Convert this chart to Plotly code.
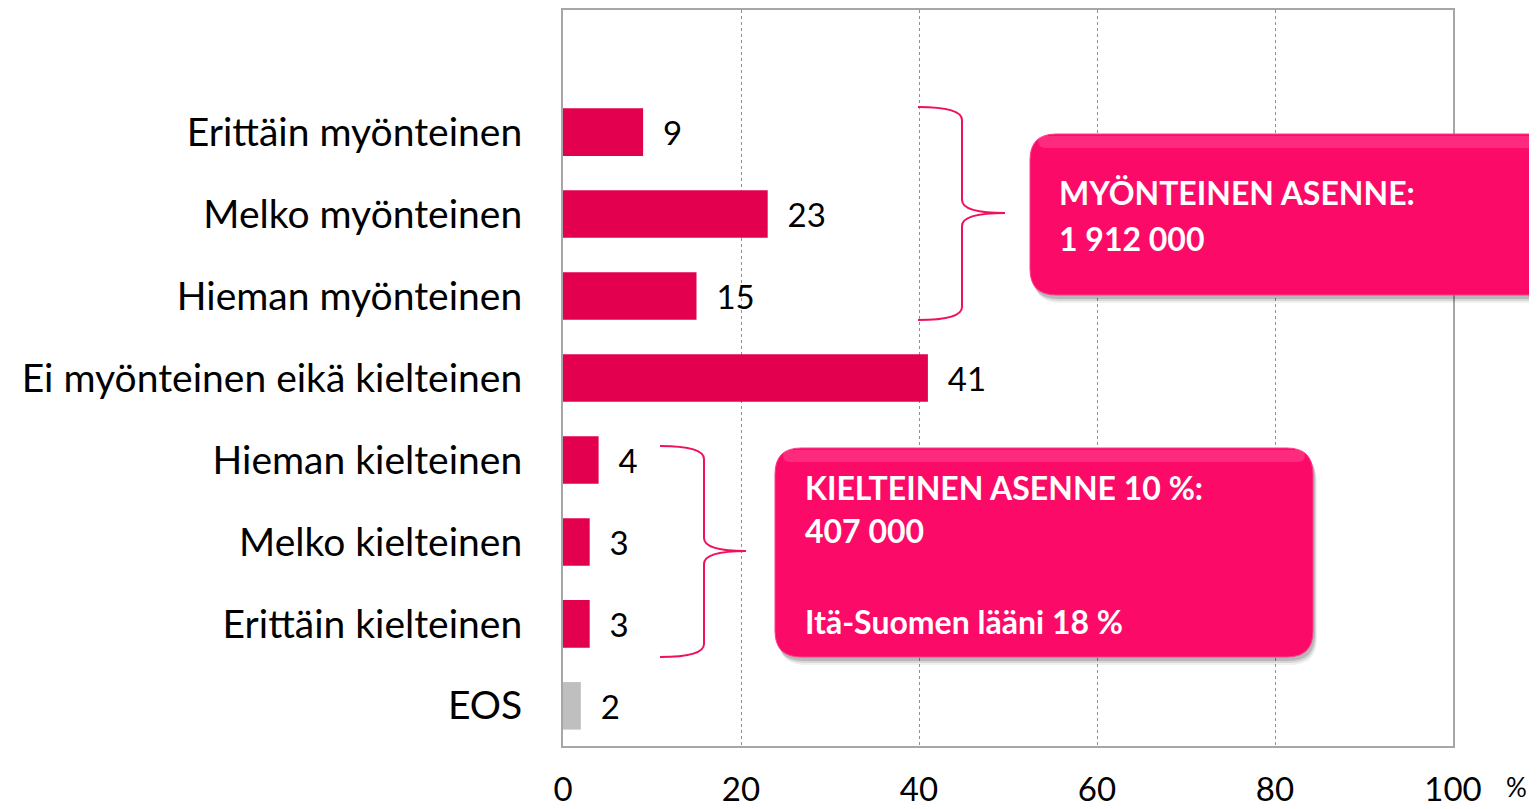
import plotly.graph_objects as go

# ---- data ----
categories = [
    "Erittäin myönteinen",
    "Melko myönteinen",
    "Hieman myönteinen",
    "Ei myönteinen eikä kielteinen",
    "Hieman kielteinen",
    "Melko kielteinen",
    "Erittäin kielteinen",
    "EOS",
]
values = [9, 23, 15, 41, 4, 3, 3, 2]
x_ticks = [0, 20, 40, 60, 80, 100]
box_top_lines = ["MYÖNTEINEN ASENNE:", "1 912 000"]
box_bottom_lines = ["KIELTEINEN ASENNE 10 %:", "407 000", "Itä-Suomen lääni 18 %"]

# ---- style ----
OFF = 8  # default page body margin
W, H = 1537 - OFF, 809 - OFF
PL, PR, PT, PB = 563, 1453, 10, 746  # plot area in page pixels
L, R, T, B = PL - OFF, W - (PR - OFF), PT - OFF, H - (PB - OFF)
PW, PH = PR - PL, PB - PT
FONT = "Lato"
PINK = "#e2004f"
GREY = "#bfbfbf"
BOX = "#fc0a68"

def xp(px):
    return (px - PL) / PW

def yp(py):
    return (PB - py) / PH

colors = [GREY if c == "EOS" else PINK for c in categories]

fig = go.Figure()
fig.add_trace(go.Bar(
    y=categories,
    x=values,
    orientation="h",
    marker=dict(color=colors, line=dict(width=0)),
    width=0.58,
    text=values,
    texttemplate="  %{text}",
    textposition="outside",
    textfont=dict(family=FONT, size=33, color="black"),
    constraintext="none",
    cliponaxis=False,
    hoverinfo="skip",
))

shapes = []

def rounded_rect(x0, y0, x1, y1, r):
    rx, ry = r / PW, r / PH
    a, b, c, d = xp(x0), yp(y1), xp(x1), yp(y0)
    return (f"M {a+rx},{b} L {c-rx},{b} Q {c},{b} {c},{b+ry} "
            f"L {c},{d-ry} Q {c},{d} {c-rx},{d} L {a+rx},{d} "
            f"Q {a},{d} {a},{d-ry} L {a},{b+ry} Q {a},{b} {a+rx},{b} Z")

def box(x0, y0, x1, y1):
    for off, alpha in [(8, 0.06), (6, 0.10), (4, 0.14)]:
        shapes.append(dict(type="path", xref="paper", yref="paper", layer="above",
                           path=rounded_rect(x0 + off * 0.5, y0 + off, x1 + off * 0.5, y1 + off, 26),
                           fillcolor=f"rgba(0,0,0,{alpha})", line=dict(width=0)))
    shapes.append(dict(type="path", xref="paper", yref="paper", layer="above",
                       path=rounded_rect(x0, y0, x1, y1, 26),
                       fillcolor=BOX, line=dict(color="#ff3d8a", width=1)))
    shapes.append(dict(type="path", xref="paper", yref="paper", layer="above",
                       path=rounded_rect(x0 + 8, y0 + 2, x1 - 8, y0 + 14, 7),
                       fillcolor="rgba(255,120,180,0.30)", line=dict(width=0)))

def brace(xl, ytop, xv, ymid, xtip, ybot):
    c = 13
    p = (f"M {xp(xl)},{yp(ytop)} "
         f"Q {xp(xv)},{yp(ytop)} {xp(xv)},{yp(ytop + c)} "
         f"L {xp(xv)},{yp(ymid - c)} "
         f"Q {xp(xv)},{yp(ymid)} {xp(xtip)},{yp(ymid)} "
         f"Q {xp(xv)},{yp(ymid)} {xp(xv)},{yp(ymid + c)} "
         f"L {xp(xv)},{yp(ybot - c)} "
         f"Q {xp(xv)},{yp(ybot)} {xp(xl)},{yp(ybot)}")
    shapes.append(dict(type="path", xref="paper", yref="paper", layer="above",
                       path=p, line=dict(color="#f0105f", width=2)))

brace(918, 107, 962, 213, 1005, 320)
brace(660, 446, 704, 551, 746, 657)
box(1030, 134, 1600, 295)
box(775, 448, 1313, 657)

annotations = []
def line_text(txt, px, py):
    annotations.append(dict(text=txt, xref="paper", yref="paper", x=xp(px), y=yp(py),
                            xanchor="left", yanchor="middle", showarrow=False,
                            font=dict(family=FONT, size=32, color="white", weight="bold")))

line_text(box_top_lines[0], 1057, 192)
line_text(box_top_lines[1], 1057, 238)
line_text(box_bottom_lines[0], 803, 487)
line_text(box_bottom_lines[1], 803, 530)
line_text(box_bottom_lines[2], 803, 621)

annotations.append(dict(text="%", xref="paper", yref="paper", x=xp(1516), y=yp(787),
                        xanchor="center", yanchor="middle", showarrow=False,
                        font=dict(family=FONT, size=26, color="black")))

fig.update_layout(
    width=W, height=H,
    margin=dict(l=L, r=R, t=T, b=B, autoexpand=False),
    paper_bgcolor="white", plot_bgcolor="white",
    showlegend=False,
    shapes=shapes,
    annotations=annotations,
)
fig.update_xaxes(
    range=[0, 100], tickvals=x_ticks, ticktext=[str(v) for v in x_ticks],
    showgrid=True, gridcolor="#909090", griddash="dot", gridwidth=1,
    showline=True, linecolor="#a6a6a6", linewidth=2, mirror=True,
    zeroline=False, ticks="", ticklabelstandoff=13, automargin=False,
    tickfont=dict(family=FONT, size=33, color="black"),
)
fig.update_yaxes(
    categoryorder="array", categoryarray=categories[::-1],
    range=[-0.49, 8.49],
    showgrid=False, showline=True, linecolor="#a6a6a6", linewidth=2, mirror=True,
    ticks="", ticklabelstandoff=31, automargin=False,
    tickfont=dict(family=FONT, size=39, color="black"),
)

fig.write_html("out.html")
